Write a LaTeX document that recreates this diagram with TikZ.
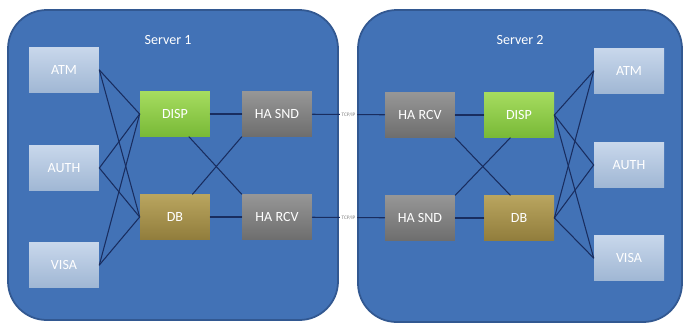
\documentclass[tikz,border=0pt]{standalone}
\usepackage{fontspec}
\setmainfont{Carlito}
\definecolor{srvblue}{RGB}{66,114,182}
\definecolor{srvedge}{RGB}{50,88,145}
\definecolor{wire}{RGB}{25,45,95}
\definecolor{apptop}{RGB}{200,215,235}
\definecolor{appbot}{RGB}{160,183,212}
\definecolor{disptop}{RGB}{165,220,95}
\definecolor{dispbot}{RGB}{120,185,55}
\definecolor{dbtop}{RGB}{185,165,95}
\definecolor{dbbot}{RGB}{145,125,60}
\definecolor{hatop}{RGB}{150,150,150}
\definecolor{habot}{RGB}{110,110,110}
\tikzset{
  server/.style = {draw=srvedge, line width=1pt, fill=srvblue, rounded corners=22pt},
  blk/.style = {minimum width=1.4cm, minimum height=0.9cm, inner sep=0pt, text=white, font=\fontsize{8}{9}\selectfont},
  app/.style = {blk, top color=apptop, bottom color=appbot},
  disp/.style = {blk, top color=disptop, bottom color=dispbot},
  dbs/.style = {blk, top color=dbtop, bottom color=dbbot},
  ha/.style = {blk, top color=hatop, bottom color=habot},
  wire/.style = {draw=wire, line width=0.6pt}
}
\begin{document}
\begin{tikzpicture}[x = 0.02cm, y = -0.02cm, line join = round, line cap = round]
  \useasboundingbox (0,0) rectangle (686,326);
  \fill[white] (0,0) rectangle (686,326);
  %Vẽ hai khung máy chủ
  \draw[server] (8,10) rectangle (338,320);
  \draw[server] (358,10) rectangle (682,322);
  \node[text=white, font=\fontsize{8}{9}\selectfont] (ten1) at (168,40) {Server 1};
  \node[text=white, font=\fontsize{8}{9}\selectfont] (ten2) at (520,40) {Server 2};
  %Các khối của Server 1
  \node[app] (atmA) at (64,70) {ATM};
  \node[app] (authA) at (64,168) {AUTH};
  \node[app] (visaA) at (64,265) {VISA};
  \node[disp] (dispA) at (175,114) {DISP};
  \node[dbs] (dbA) at (175,217) {DB};
  \node[ha] (sndA) at (277,114) {HA SND};
  \node[ha] (rcvA) at (277,217) {HA RCV};
  %Các khối của Server 2
  \node[ha] (rcvB) at (420,115) {HA RCV};
  \node[ha] (sndB) at (420,218) {HA SND};
  \node[disp] (dispB) at (519,115) {DISP};
  \node[dbs] (dbB) at (519,218) {DB};
  \node[app] (atmB) at (629,71) {ATM};
  \node[app] (authB) at (629,165) {AUTH};
  \node[app] (visaB) at (629,258) {VISA};
  %Nối dây trong Server 1
  \foreach \a in {atmA,authA,visaA} {
    \draw[wire] (\a.east) -- (dispA.west);
    \draw[wire] (\a.east) -- (dbA.west);
  }
  \draw[wire] (dispA) -- (sndA);
  \draw[wire] (dbA) -- (rcvA);
  \draw[wire] ([xshift=8pt]dispA.south) -- (rcvA.north west);
  \draw[wire] ([xshift=10pt]dbA.north) -- (sndA.south west);
  %Nối dây trong Server 2
  \draw[wire] (rcvB) -- (dispB);
  \draw[wire] (sndB) -- (dbB);
  \draw[wire] (rcvB.south east) -- ([xshift=-5pt]dbB.north);
  \draw[wire] (sndB.north east) -- ([xshift=-5pt]dispB.south);
  \foreach \b in {atmB,authB,visaB} {
    \draw[wire] (dispB.east) -- (\b.west);
    \draw[wire] (dbB.east) -- (\b.west);
  }
  %Đường nối giữa hai máy chủ
  \draw[wire] (sndA) -- node[fill=white, inner sep=1pt, text=gray, font=\fontsize{3}{3}\selectfont] (lbl1) {TCP/IP} (rcvB);
  \draw[wire] (rcvA) -- node[fill=white, inner sep=1pt, text=gray, font=\fontsize{3}{3}\selectfont] (lbl2) {TCP/IP} (sndB);
\end{tikzpicture}
\end{document}
